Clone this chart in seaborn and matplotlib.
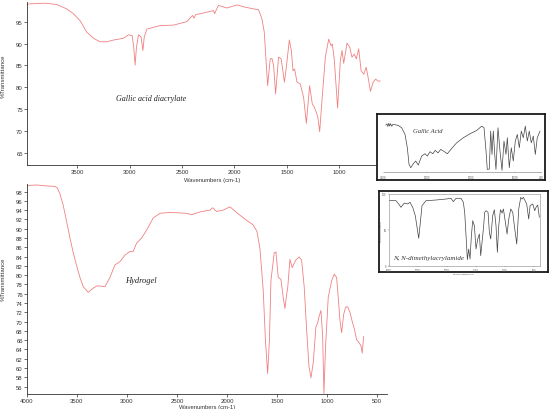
import numpy as np
import matplotlib
matplotlib.use("Agg")
import matplotlib.pyplot as plt
import seaborn as sns

# --- Gallic acid diacrylate (top panel) ---
gad_wn = [3980, 3900, 3800, 3694, 3598, 3535, 3471, 3408, 3344, 3281, 3217, 3153,
          3058, 3010, 2975, 2960, 2947, 2935, 2915, 2890, 2873, 2860, 2835, 2708,
          2581, 2454, 2400, 2385, 2370, 2326, 2200, 2190, 2175, 2152, 2072, 1977,
          1900, 1818, 1771, 1738, 1716, 1684, 1659, 1643, 1627, 1608, 1580, 1555,
          1524, 1506, 1477, 1458, 1442, 1427, 1404, 1373, 1341, 1315, 1284, 1258,
          1239, 1220, 1204, 1188, 1166, 1134, 1102, 1080, 1067, 1048, 1017, 991,
          975, 959, 927, 902, 880, 858, 839, 816, 793, 768, 745, 730, 704, 678,
          654, 631, 610]
gad_t = [99.0, 99.1, 99.2, 98.9, 97.9, 96.8, 95.2, 92.6, 91.2, 90.4, 90.4, 90.8,
         91.2, 92.0, 91.8, 89.0, 85.1, 89.0, 92.0, 91.5, 88.4, 91.5, 93.3, 94.1,
         94.2, 95.0, 96.4, 95.8, 96.6, 96.8, 97.5, 96.8, 97.6, 98.7, 98.1, 98.8,
         98.3, 97.9, 97.7, 95.6, 92.6, 80.4, 86.5, 86.6, 85.0, 78.5, 86.9, 86.5,
         81.2, 84.6, 90.8, 88.4, 83.8, 84.2, 81.2, 80.8, 77.7, 71.8, 80.4, 76.2,
         75.5, 74.3, 73.0, 69.9, 77.0, 86.9, 91.0, 89.5, 89.9, 86.1, 75.3, 86.1,
         88.4, 85.5, 90.1, 89.2, 86.9, 87.6, 86.5, 88.8, 83.8, 83.0, 84.6, 82.8,
         79.1, 81.2, 81.9, 81.4, 81.5]

# --- Hydrogel (bottom panel) ---
hyd_wn = [4000, 3900, 3800, 3720, 3697, 3670, 3637, 3603, 3570, 3537, 3503, 3470,
          3437, 3387, 3337, 3297, 3253, 3220, 3170, 3120, 3070, 3020, 2970, 2937,
          2903, 2853, 2803, 2737, 2670, 2570, 2403, 2353, 2270, 2170, 2143, 2103,
          2037, 1970, 1937, 1870, 1803, 1737, 1700, 1670, 1637, 1615, 1593, 1575,
          1560, 1527, 1510, 1487, 1460, 1437, 1420, 1400, 1393, 1370, 1347, 1313,
          1277, 1253, 1227, 1203, 1180, 1160, 1137, 1110, 1093, 1080, 1060, 1043,
          1030, 1013, 987, 953, 927, 903, 887, 870, 853, 833, 813, 793, 770, 747,
          727, 703, 680, 660, 647, 633]
hyd_t = [99.3, 99.4, 99.2, 99.1, 98.8, 97.5, 95.0, 91.5, 88.0, 84.8, 82.0, 79.5,
         77.5, 76.3, 77.2, 77.7, 77.6, 77.5, 79.5, 82.2, 82.9, 84.3, 85.1, 85.1,
         86.9, 88.0, 89.7, 92.3, 93.3, 93.5, 93.3, 93.0, 93.6, 94.0, 94.5, 93.7,
         94.0, 94.7, 94.1, 92.9, 91.8, 90.8, 89.4, 85.8, 76.7, 66.0, 58.8, 66.0,
         78.8, 84.8, 85.0, 79.5, 79.1, 75.2, 72.8, 76.3, 77.0, 83.4, 81.6, 83.2,
         83.9, 83.2, 77.4, 68.2, 60.4, 57.9, 61.1, 68.9, 69.6, 71.0, 72.4, 67.0,
         54.5, 65.0, 75.2, 78.8, 80.2, 79.5, 75.2, 70.3, 67.6, 71.5, 73.1, 73.2,
         72.0, 70.0, 68.5, 66.1, 65.5, 64.8, 63.2, 66.8]

# --- Gallic acid reference inset ---
ga_wn = [3950, 3920, 3900, 3880, 3860, 3840, 3810, 3790, 3737, 3661, 3584, 3508,
         3455, 3416, 3378, 3318, 3263, 3204, 3126, 3050, 2998, 2936, 2874, 2815,
         2753, 2691, 2616, 2540, 2439, 2325, 2174, 2021, 1867, 1753, 1700, 1654,
         1625, 1579, 1547, 1517, 1487, 1455, 1426, 1380, 1334, 1288, 1243, 1197,
         1167, 1121, 1076, 1030, 984, 938, 892, 847, 801, 755, 709, 664, 618, 572,
         526, 481, 419]
ga_t = [88.7, 91.0, 86.0, 92.0, 87.0, 91.5, 86.5, 90.0, 89.5, 88.0, 83.6, 71.1,
        45.9, 14.5, 8.2, 15.7, 20.8, 13.2, 30.2, 34.6, 30.2, 38.4, 34.6, 40.9,
        36.0, 42.8, 39.0, 34.6, 44.7, 55.3, 64.8, 72.3, 78.6, 86.8, 83.6, 39.6,
        5.0, 5.7, 77.4, 33.3, 77.4, 33.3, 5.0, 83.6, 39.6, 3.1, 58.5, 33.3,
        64.8, 8.2, 45.9, 20.8, 58.5, 71.1, 45.9, 77.4, 64.8, 86.8, 58.5, 77.4,
        55.3, 67.9, 33.3, 64.8, 77.4]

# --- N,N-dimethylacrylamide reference inset ---
dm_wn = [4000, 3750, 3656, 3577, 3464, 3347, 3268, 3175, 3086, 3017, 2969, 2924,
         2856, 2718, 2375, 2031, 1930, 1890, 1843, 1758, 1718, 1695, 1672, 1649,
         1626, 1603, 1580, 1557, 1529, 1500, 1471, 1443, 1420, 1397, 1374, 1351,
         1328, 1294, 1271, 1248, 1214, 1186, 1157, 1134, 1110, 1081, 1053, 1030,
         996, 967, 938, 904, 870, 835, 801, 767, 732, 710, 687, 659, 630, 596,
         572, 526, 492, 470, 441, 413]
dm_t = [90.7, 90.7, 86.1, 81.4, 87.4, 86.1, 88.4, 81.4, 69.7, 51.2, 38.2, 55.8,
        83.7, 90.7, 91.6, 93.0, 94.0, 89.3, 94.0, 94.0, 88.4, 74.5, 41.8, 8.4,
        23.3, 9.3, 41.8, 62.8, 55.8, 23.3, 37.2, 44.2, 14.0, 32.6, 51.2, 74.5,
        76.7, 74.5, 46.6, 37.2, 69.7, 78.1, 55.8, 18.6, 55.8, 78.1, 73.5, 79.1,
        60.5, 44.2, 65.1, 79.1, 74.5, 51.2, 30.2, 79.1, 95.3, 93.0, 95.3, 90.7,
        86.1, 65.1, 83.7, 86.1, 76.7, 81.4, 84.7, 67.5]

RED = "#f08080"
GREY = "#444444"

sns.set_style("white")
plt.rcParams["font.family"] = ["Liberation Sans", "DejaVu Sans"]

fig = plt.figure(figsize=(5.5, 4.1), dpi=100)


def style_main(ax):
    sns.despine(ax=ax)
    for s in ("left", "bottom"):
        ax.spines[s].set_linewidth(0.6)
        ax.spines[s].set_color("#333333")
    ax.tick_params(labelsize=4.3, length=2, width=0.5, pad=1,
                   left=True, bottom=True, colors="#333333")
    ax.set_xlabel("Wavenumbers (cm-1)", fontsize=4.2, color="#333333")
    ax.set_ylabel("%Transmittance", fontsize=4.3, color="#333333")


# top panel
ax1 = fig.add_axes([0.049, 0.595, 0.673, 0.398])
sns.lineplot(x=gad_wn, y=gad_t, ax=ax1, color=RED, linewidth=0.6,
             sort=False, estimator=None)
ax1.set_xlim(3978, 450)
ax1.set_ylim(62.3, 99.5)
ax1.set_xticks([3500, 3000, 2500, 2000, 1500, 1000])
ax1.set_yticks([65, 70, 75, 80, 85, 90, 95])
style_main(ax1)
ax1.xaxis.set_label_coords(0.5, -0.074)
ax1.yaxis.set_label_coords(-0.058, 0.55)
ax1.text(2794, 77.6, "Gallic acid diacrylate", fontsize=5.8, style="italic",
         family="Liberation Serif", ha="center", va="center", color="#222222")

# bottom panel
ax2 = fig.add_axes([0.049, 0.0366, 0.6545, 0.512])
sns.lineplot(x=hyd_wn, y=hyd_t, ax=ax2, color=RED, linewidth=0.6,
             sort=False, estimator=None)
ax2.set_xlim(4000, 400)
ax2.set_ylim(54.4, 99.6)
ax2.set_xticks([4000, 3500, 3000, 2500, 2000, 1500, 1000, 500])
ax2.set_yticks(np.arange(56, 99, 2))
style_main(ax2)
ax2.xaxis.set_label_coords(0.5, -0.05)
ax2.yaxis.set_label_coords(-0.06, 0.55)
ax2.text(2860, 78.9, "Hydrogel", fontsize=6.1, style="italic",
         family="Liberation Serif", ha="center", va="center", color="#222222")


def frame_box(rect):
    box = fig.add_axes(rect)
    box.set_xticks([])
    box.set_yticks([])
    box.set_facecolor("white")
    for s in box.spines.values():
        s.set_visible(True)
        s.set_linewidth(1.3)
        s.set_color("#1a1a1a")
    return box


# gallic acid inset
frame_box([0.6855, 0.5585, 0.3055, 0.161])
ax3 = fig.add_axes([0.6973, 0.578, 0.286, 0.129])
ax3.set_facecolor("none")
sns.lineplot(x=ga_wn, y=ga_t, ax=ax3, color=GREY, linewidth=0.5,
             sort=False, estimator=None)
ax3.set_xlim(4000, 400)
ax3.set_ylim(0, 100)
ax3.set_xticks([4000, 3000, 2000, 1000, 400])
ax3.set_yticks([])
for s in ("left", "top", "right"):
    ax3.spines[s].set_visible(False)
ax3.spines["bottom"].set_linewidth(0.4)
ax3.spines["bottom"].set_color("#777777")
ax3.tick_params(labelsize=2, length=1, width=0.3, pad=0.8, bottom=True,
                colors="#555555")
ax3.set_xlabel("")
ax3.set_ylabel("")
ax3.text(2982, 79, "Gallic Acid", fontsize=4.7, style="italic",
         family="Liberation Serif", ha="center", va="center", color="#333333")

# N,N-dimethylacrylamide inset (compressed 4000-2000 scale)
def fwd(w):
    w = np.asarray(w, dtype=float)
    return np.where(w >= 2000, (w - 2000) / 1000.0, (w - 2000) / 500.0)


def inv(p):
    p = np.asarray(p, dtype=float)
    return np.where(p >= 0, 2000 + 1000.0 * p, 2000 + 500.0 * p)


frame_box([0.689, 0.334, 0.307, 0.1976])
ax4 = fig.add_axes([0.7067, 0.3495, 0.2753, 0.1749])
ax4.set_facecolor("none")
sns.lineplot(x=dm_wn, y=dm_t, ax=ax4, color=GREY, linewidth=0.5,
             sort=False, estimator=None)
ax4.set_xscale("function", functions=(fwd, inv))
ax4.set_xlim(4000, 400)
ax4.set_ylim(0, 100)
ax4.set_xticks([4000, 3000, 2000, 1500, 1000, 500])
ax4.set_yticks([0, 50, 100])
for s in ax4.spines.values():
    s.set_visible(True)
    s.set_linewidth(0.4)
    s.set_color("#888888")
ax4.tick_params(labelsize=1.8, length=1, width=0.3, pad=0.6, bottom=True,
                left=True, colors="#555555")
ax4.set_xlabel("WAVENUMBER[cm-1]", fontsize=1.6, labelpad=0.3, color="#555555")
ax4.set_ylabel("TRANSMITTANCE[%]", fontsize=1.6, labelpad=0.3, color="#555555")
ax4.text(3850, 11.7, "N, N-dimethylacrylamide", fontsize=5, style="italic",
         family="Liberation Serif", ha="left", va="center", color="#333333")

fig.savefig("out.png", dpi=100)
